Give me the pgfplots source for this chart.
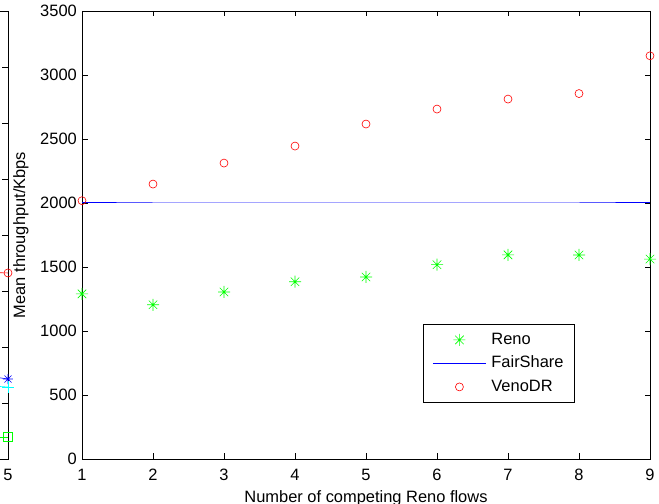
\documentclass[border=0pt]{standalone}
\usepackage{fontspec}
\setmainfont{Liberation Sans}
\usepackage{pgfplots}
\pgfplotsset{compat=1.18}

\definecolor{mred}{rgb}{1,0,0}
\definecolor{mgreen}{rgb}{0,1,0}
\definecolor{mblue}{rgb}{0,0,1}
\definecolor{mcyan}{rgb}{0,1,1}

% MATLAB style '*' : plus and cross together
\pgfdeclareplotmark{mstar}{%
  \pgfpathmoveto{\pgfqpoint{-\pgfplotmarksize}{0pt}}\pgfpathlineto{\pgfqpoint{\pgfplotmarksize}{0pt}}%
  \pgfpathmoveto{\pgfqpoint{0pt}{-\pgfplotmarksize}}\pgfpathlineto{\pgfqpoint{0pt}{\pgfplotmarksize}}%
  \pgfpathmoveto{\pgfqpoint{-.7071\pgfplotmarksize}{-.7071\pgfplotmarksize}}\pgfpathlineto{\pgfqpoint{.7071\pgfplotmarksize}{.7071\pgfplotmarksize}}%
  \pgfpathmoveto{\pgfqpoint{-.7071\pgfplotmarksize}{.7071\pgfplotmarksize}}\pgfpathlineto{\pgfqpoint{.7071\pgfplotmarksize}{-.7071\pgfplotmarksize}}%
  \pgfusepathqstroke}

\newcommand{\fs}{\fontsize{16.5}{19}\selectfont}

\pgfplotsset{
  mlab/.style={
    scale only axis, width=568bp, height=448bp,
    axis line style={line width=0.8bp},
    every tick/.append style={black, line width=0.8bp},
    major tick length=5.5bp, tick align=inside,
    tick label style={font=\fs, inner sep=0pt},
    /pgf/number format/assume math mode=true,
    /pgf/number format/1000 sep={},
    xticklabel style={yshift=-10bp},
    yticklabel style={xshift=-5bp},
    clip=false,
  }
}

\begin{document}
\begin{tikzpicture}
\begin{scope}
\clip (0bp,0bp) rectangle (659bp,504bp);

% left neighbour panel, only its right edge is in view
\begin{axis}[mlab, at={(8bp,45bp)}, anchor=south east,
  xmin=1, xmax=5, ymin=0, ymax=4000,
  xtick={1,...,5}, xticklabels={,,,,5},
  ytick={0,500,...,4000}, yticklabels={}]
\addplot[color=mred, line width=0.6bp, mark=o, mark size=4bp] coordinates {(4,1700) (5,1661)};
\addplot[color=mblue, line width=0.6bp, mark=mstar, mark size=5bp] coordinates {(4,900) (5,714)};
\addplot[color=mcyan, line width=0.6bp, mark=+, mark size=6bp] coordinates {(4,720) (5,643)};
\addplot[color=mgreen, line width=0.6bp, mark=square, mark size=4.5bp] coordinates {(4,196) (5,196)};
\end{axis}

\begin{axis}[mlab, at={(82bp,45bp)}, anchor=south west,
  xmin=1, xmax=9, ymin=0, ymax=3500,
  xtick={1,...,9}, ytick={0,500,...,3500},
  xlabel={Number of competing Reno flows},
  ylabel={Mean throughput/Kbps},
  xlabel style={at={(rel axis cs:0.5,0)}, anchor=north, yshift=-31bp, inner sep=0pt, font=\fs},
  ylabel style={at={(rel axis cs:-0.1074,0.5)}, anchor=center, inner sep=0pt, font=\fs},
  legend style={at={(rel axis cs:0.6004,0.3013)}, anchor=north west,
    draw=black, line width=0.8bp, fill=white, font=\fs,
    inner xsep=9bp, inner ysep=5.75bp, row sep=4bp, column sep=3bp,
    nodes={inner sep=2bp, text height=12bp, text depth=3.5bp}},
  legend cell align=left,
  legend image code/.code={\draw[mark repeat=2,mark phase=2,#1] plot coordinates {(0bp,0bp) (26.5bp,0bp) (53bp,0bp)};},
]
\addplot[color=mgreen, only marks, line width=0.6bp, mark=mstar, mark size=6bp] coordinates {
  (1,1290) (2,1205) (3,1305) (4,1385) (5,1422) (6,1518) (7,1595) (8,1594) (9,1562)};
\addlegendentry{Reno}
\addplot[draw=mblue, line width=1bp,
  legend image code/.code={\draw[draw=mblue, line width=1bp] (0bp,0bp) -- (53bp,0bp);}] coordinates {
  (1,2000) (2,2000) (3,2000) (4,2000) (5,2000) (6,2000) (7,2000) (8,2000) (9,2000)};
\addlegendentry{FairShare}
\addplot[color=mred, only marks, line width=0.6bp, mark=o, mark size=4bp] coordinates {
  (1,2018) (2,2148) (3,2312) (4,2445) (5,2617) (6,2734) (7,2812) (8,2855) (9,3150)};
\addlegendentry{VenoDR}
\end{axis}
\end{scope}
\pgfresetboundingbox
\useasboundingbox (0bp,0bp) rectangle (659bp,504bp);
\end{tikzpicture}
\end{document}
